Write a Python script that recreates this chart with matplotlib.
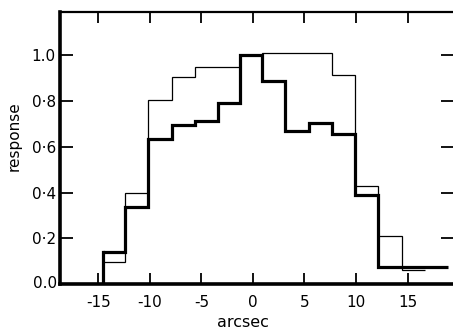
import numpy as np
import matplotlib
matplotlib.use("Agg")
import matplotlib.pyplot as plt

# bin edges (arcsec)
edges = [-14.5, -12.4, -10.2, -7.8, -5.6, -3.4, -1.25, 0.9, 3.15,
         5.45, 7.65, 9.9, 12.15, 14.45, 16.65, 18.9]

# thick curve: one value per bin
thick = [0.14, 0.335, 0.635, 0.695, 0.715, 0.79, 1.0, 0.89, 0.67,
         0.705, 0.655, 0.39, 0.075, 0.075, 0.075]

# thin curve: stops at 16.65
thin = [0.095, 0.40, 0.805, 0.905, 0.95, 0.95, 1.0, 1.01, 1.01,
        1.01, 0.915, 0.43, 0.21, 0.06]

xticks = [-15, -10, -5, 0, 5, 10, 15]
xlabels = ["-15", "-10", "-5", "0", "5", "10", "15"]
yticks = [0.0, 0.2, 0.4, 0.6, 0.8, 1.0]
ylabels = ["0.0", "0·2", "0·4", "0·6", "0·8", "1.0"]

fig = plt.figure(figsize=(4.53, 3.35), dpi=100)
ax = fig.add_axes([60/453, 51/335, 393/453, 272/335])

ax.stairs(thin, edges[:len(thin) + 1], color="black", lw=0.9, baseline=None)
ax.stairs(thick, edges, color="black", lw=2.3, baseline=None)
# vertical rise from zero at the left edge
ax.plot([edges[0], edges[0]], [0, thick[0]], color="black", lw=2.3)

ax.set_xlim(-18.7, 19.4)
ax.set_ylim(0, 1.19)

ax.spines["right"].set_visible(False)
ax.spines["left"].set_linewidth(2.6)
ax.spines["bottom"].set_linewidth(2.6)
ax.spines["top"].set_linewidth(1.6)

ax.set_xticks(xticks)
ax.set_xticklabels(xlabels)
ax.set_yticks(yticks[1:])
ax.set_yticklabels(ylabels[1:])
ax.tick_params(axis="x", which="both", direction="in", top=True, bottom=True,
               length=8, width=1.3, pad=8, labelsize=11)
ax.tick_params(axis="y", which="both", direction="in", left=True, right=True,
               length=9, width=1.3, pad=3, labelsize=11)
ax.text(-0.008, 0, "0.0", transform=ax.transAxes, ha="right", va="center",
        fontsize=11)

ax.set_xlabel("arcsec", fontsize=11.5, labelpad=6)
ax.xaxis.set_label_coords(0.466, -0.115)
ax.set_ylabel("response", fontsize=11)
ax.yaxis.set_label_coords(-0.097, 0.545)

fig.savefig("out.png", dpi=100)
